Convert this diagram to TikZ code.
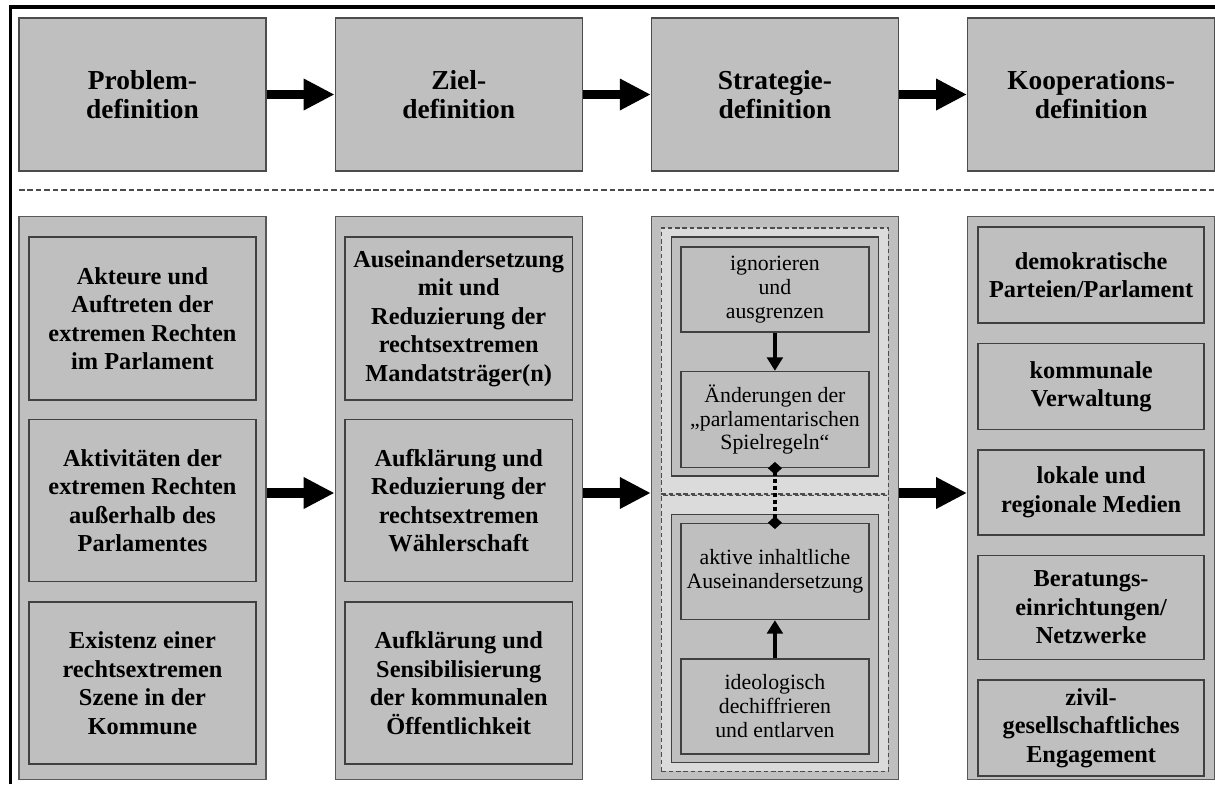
\documentclass[tikz,border=0pt]{standalone}
\usepackage{fontspec}
\setmainfont{Liberation Serif}
\usetikzlibrary{arrows.meta,positioning}

\tikzset{
  headbox/.style={draw=black!70, line width=0.8pt, fill=black!25, minimum width=6.175cm, minimum height=3.825cm,
    align=center, font=\bfseries\fontsize{19.5}{20.5}\selectfont},
  colbox/.style={draw=black!65, line width=0.8pt, fill=black!25, minimum width=6.175cm, minimum height=14.05cm},
  itembox/.style={draw=black!75, line width=1pt, fill=black!25, minimum width=5.675cm, align=center, inner sep=0pt,
    font=\bfseries\fontsize{17.3}{20.3}\selectfont},
  dashbox/.style={draw=black!70, line width=0.9pt, dash pattern=on 3.2pt off 2pt, fill=black!14, minimum width=5.675cm},
  groupbox/.style={draw=black!75, line width=1pt, fill=black!25, minimum width=5.175cm},
  stratbox/.style={draw=black!75, line width=1pt, fill=black!25, minimum width=4.7cm, align=center, inner sep=0pt,
    font=\fontsize{15.5}{17}\selectfont},
  bigarrow/.style={line width=7.1pt, -{Triangle[length=22pt,width=21pt]}},
  smallarrow/.style={line width=2.8pt, -{Triangle[length=9.5pt,width=11pt]}},
  dotlink/.style={line width=3pt, dash pattern=on 3pt off 2pt,
    {Diamond[length=9pt,width=10pt]}-{Diamond[length=9pt,width=10pt]}, shorten <=-4.5pt, shorten >=-4.5pt}
}

\begin{document}
\begin{tikzpicture}[x=0.025cm, y=-0.025cm]
    \useasboundingbox (0,0) rectangle (1215,784);
    % frame
    \draw[line width=2.5pt] (10.5,784) -- (10.5,7) -- (1215,7);

    % phases
    \node[headbox] (prob) at (142.5,94.5) {Problem-\\definition};
    \node[headbox, right=1.7cm of prob] (ziel) {Ziel-\\definition};
    \node[headbox, right=1.7cm of ziel] (strat) {Strategie-\\definition};
    \node[headbox, right=1.7cm of strat] (koop) {Kooperations-\\definition};

    \foreach \a/\b in {prob/ziel, ziel/strat, strat/koop}
        \draw[bigarrow] (\a) -- (\b);

    \draw[black!70, line width=1pt, dash pattern=on 4pt off 2pt] (19,190) -- (1215,190);

    % columns
    \node[colbox] (col1) at (142.5,498) {};
    \node[colbox, right=1.7cm of col1] (col2) {};
    \node[colbox, right=1.7cm of col2] (col3) {};
    \node[colbox, right=1.7cm of col3] (col4) {};

    % problems
    \node[itembox, minimum height=4.075cm, below=0.5cm of col1.north] (prob1)
        {Akteure und\\Auftreten der\\extremen Rechten\\im Parlament};
    \node[itembox, minimum height=4.05cm, below=0.45cm of prob1] (prob2)
        {Aktivitäten der\\extremen Rechten\\außerhalb des\\Parlamentes};
    \node[itembox, minimum height=4.05cm, below=0.475cm of prob2] (prob3)
        {Existenz einer\\rechtsextremen\\Szene in der\\Kommune};

    % goals
    \node[itembox, minimum height=4.075cm, below=0.5cm of col2.north] (ziel1)
        {Auseinandersetzung\\mit und\\Reduzierung der\\rechtsextremen\\Mandatsträger(n)};
    \node[itembox, minimum height=4.05cm, below=0.45cm of ziel1] (ziel2)
        {Aufklärung und\\Reduzierung der\\rechtsextremen\\Wählerschaft};
    \node[itembox, minimum height=4.05cm, below=0.475cm of ziel2] (ziel3)
        {Aufklärung und\\Sensibilisierung\\der kommunalen\\Öffentlichkeit};

    % strategies
    \node[dashbox, minimum height=6.65cm, below=0.275cm of col3.north] (upper) {};
    \node[dashbox, minimum height=6.9cm, below=0cm of upper] (lower) {};
    \node[groupbox, minimum height=5.975cm, below=0.225cm of upper.north] (ugrp) {};
    \node[stratbox, minimum height=2.125cm, below=0.25cm of ugrp.north] (ign)
        {ignorieren\\und\\ausgrenzen};
    \node[stratbox, minimum height=2.4cm, below=0.95cm of ign] (aend)
        {Änderungen der\\„parlamentarischen\\Spielregeln“};
    \node[groupbox, minimum height=6.2cm, below=0.475cm of lower.north] (lgrp) {};
    \node[stratbox, minimum height=2.4cm, below=0.225cm of lgrp.north] (akt)
        {aktive inhaltliche\\Auseinandersetzung};
    \node[stratbox, minimum height=2.375cm, below=0.95cm of akt] (ideo)
        {ideologisch\\dechiffrieren\\und entlarven};

    \draw[smallarrow] (ign) -- (aend);
    \draw[smallarrow] (ideo) -- (akt);
    \draw[dotlink] (aend) -- (akt);

    % cooperation partners
    \node[itembox, minimum width=5.65cm, minimum height=2.4cm, below=0.25cm of col4.north] (koop1)
        {demokratische\\Parteien/Parlament};
    \node[itembox, minimum width=5.65cm, minimum height=2.15cm, below=0.475cm of koop1] (koop2)
        {kommunale\\Verwaltung};
    \node[itembox, minimum width=5.65cm, minimum height=2.125cm, below=0.475cm of koop2] (koop3)
        {lokale und\\regionale Medien};
    \node[itembox, minimum width=5.65cm, minimum height=2.6cm, below=0.475cm of koop3] (koop4)
        {Beratungs-\\einrichtungen/\\Netzwerke};
    \node[itembox, minimum width=5.65cm, minimum height=2.4cm, below=0.475cm of koop4] (koop5)
        {zivil-\\gesellschaftliches\\Engagement};

    \foreach \a/\b in {col1/col2, col2/col3, col3/col4}
        \draw[bigarrow] ([yshift=0.125cm]\a.east) -- ([yshift=0.125cm]\b.west);
\end{tikzpicture}
\end{document}
